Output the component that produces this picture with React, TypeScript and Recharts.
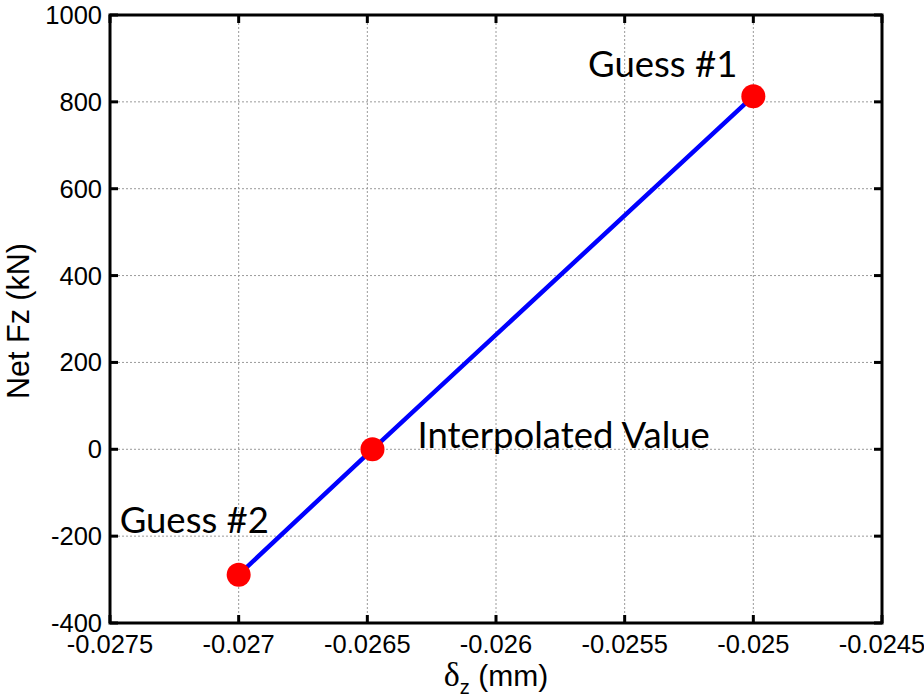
import {
  LineChart, Line, XAxis, YAxis, CartesianGrid, LabelList, ReferenceArea,
} from 'recharts'

const displacements = [-0.027, -0.02648, -0.025]
const forces = [-289, 0, 813]
const pointNames = ['Guess #2', 'Interpolated Value', 'Guess #1']

const xTicks = [-0.0275, -0.027, -0.0265, -0.026, -0.0255, -0.025, -0.0245]
const yTicks = [-400, -200, 0, 200, 400, 600, 800, 1000]
const xDomain = [-0.0275, -0.0245]
const yDomain = [-400, 1000]

const data = displacements.map((d, i) => ({ disp: d, force: forces[i], name: pointNames[i] }))

const W = 924
const H = 698
const MARGIN = { top: 15, right: 42, bottom: 0, left: 0 }
const Y_AXIS_W = 110
const X_AXIS_H = 75
const PLOT_W = W - MARGIN.right - Y_AXIS_W
const PLOT_H = H - MARGIN.top - X_AXIS_H

const SANS = '"Liberation Sans", Arial, sans-serif'
const TICK_FONT = { fontFamily: SANS, fontSize: 25.5, fill: '#000' }
const TICK_SIZE = -8 // negative = inward
const X_TICK_MARGIN = 38
const Y_TICK_MARGIN = 16
const MARK = 8

// tick marks drawn here (inside, on both sides) since the built-in ones don't show for x
function BottomTick({ x, y, payload }: any) {
  const axisY = y - TICK_SIZE - X_TICK_MARGIN
  return (
    <g>
      <rect x={x - 1.5} y={axisY - MARK} width={3} height={MARK} fill="#000" />
      <rect x={x - 1.5} y={axisY - PLOT_H} width={3} height={MARK} fill="#000" />
      <text x={x} y={y} textAnchor="middle" {...TICK_FONT}>{String(payload.value)}</text>
    </g>
  )
}

function LeftTick({ x, y, payload }: any) {
  const axisX = x + Y_TICK_MARGIN + TICK_SIZE
  return (
    <g>
      <rect x={axisX} y={y - 1.5} width={MARK} height={3} fill="#000" />
      <rect x={axisX + PLOT_W - MARK} y={y - 1.5} width={MARK} height={3} fill="#000" />
      <text x={x} y={y + 9} textAnchor="end" {...TICK_FONT}>{String(payload.value)}</text>
    </g>
  )
}

// where each annotation sits relative to its point
const labelPlacement: Record<string, { anchor: 'start' | 'end'; dx: number; dy: number }> = {
  'Guess #1': { anchor: 'end', dx: -16, dy: -19 },
  'Guess #2': { anchor: 'start', dx: -119, dy: -42 },
  'Interpolated Value': { anchor: 'start', dx: 45, dy: -1 },
}

function PointLabel({ x, y, value }: any) {
  const p = labelPlacement[value]
  if (!p) return null
  return (
    <text x={x + p.dx} y={y + p.dy} textAnchor={p.anchor}
      fontFamily="Lato, 'Open Sans', sans-serif" fontSize={36.5} fill="#000">
      {value}
    </text>
  )
}

function XLabel({ viewBox }: any) {
  const cx = viewBox.x + viewBox.width / 2
  return (
    <text x={cx} y={viewBox.y + 63} textAnchor="middle" fill="#000">
      <tspan fontFamily="'Liberation Serif', 'DejaVu Serif', serif" fontSize={34}>δ</tspan>
      <tspan fontFamily={SANS} fontSize={20} dy={8}>z</tspan>
      <tspan fontFamily={SANS} fontSize={30} dy={-8}>{'   (mm)'}</tspan>
    </text>
  )
}

function YLabel({ viewBox }: any) {
  const cy = viewBox.y + viewBox.height / 2 + 2
  const cx = 18
  return (
    <text x={cx} y={cy} transform={`rotate(-90 ${cx} ${cy})`} textAnchor="middle"
      dominantBaseline="central" fontFamily={SANS} fontSize={30.5} fill="#000">
      Net Fz (kN)
    </text>
  )
}

export default function App() {
  return (
    <div style={{ position: 'absolute', left: 0, top: 0, background: '#fff' }}>
      <LineChart width={W} height={H} data={data} margin={MARGIN}>
        <CartesianGrid stroke="#9a9a9a" strokeDasharray="2 2" strokeWidth={1} />
        <XAxis
          dataKey="disp" type="number" domain={xDomain} ticks={xTicks}
          allowDataOverflow height={X_AXIS_H} tickSize={TICK_SIZE} tickMargin={X_TICK_MARGIN}
          axisLine={false} tickLine={false} tick={<BottomTick />}
          label={<XLabel />}
        />
        <YAxis
          type="number" domain={yDomain} ticks={yTicks} allowDataOverflow width={Y_AXIS_W}
          tickSize={TICK_SIZE} tickMargin={Y_TICK_MARGIN} axisLine={false} tickLine={false}
          tick={<LeftTick />} label={<YLabel />}
        />
        <ReferenceArea
          x1={xDomain[0]} x2={xDomain[1]} y1={yDomain[0]} y2={yDomain[1]}
          stroke="#000" strokeWidth={3} fill="none" fillOpacity={0}
        />
        <Line
          dataKey="force" stroke="#0000ff" strokeWidth={4.5} isAnimationActive={false}
          dot={{ r: 12, fill: '#ff0000', stroke: 'none' }} activeDot={false}
        >
          <LabelList dataKey="name" content={<PointLabel />} />
        </Line>
      </LineChart>
    </div>
  )
}
